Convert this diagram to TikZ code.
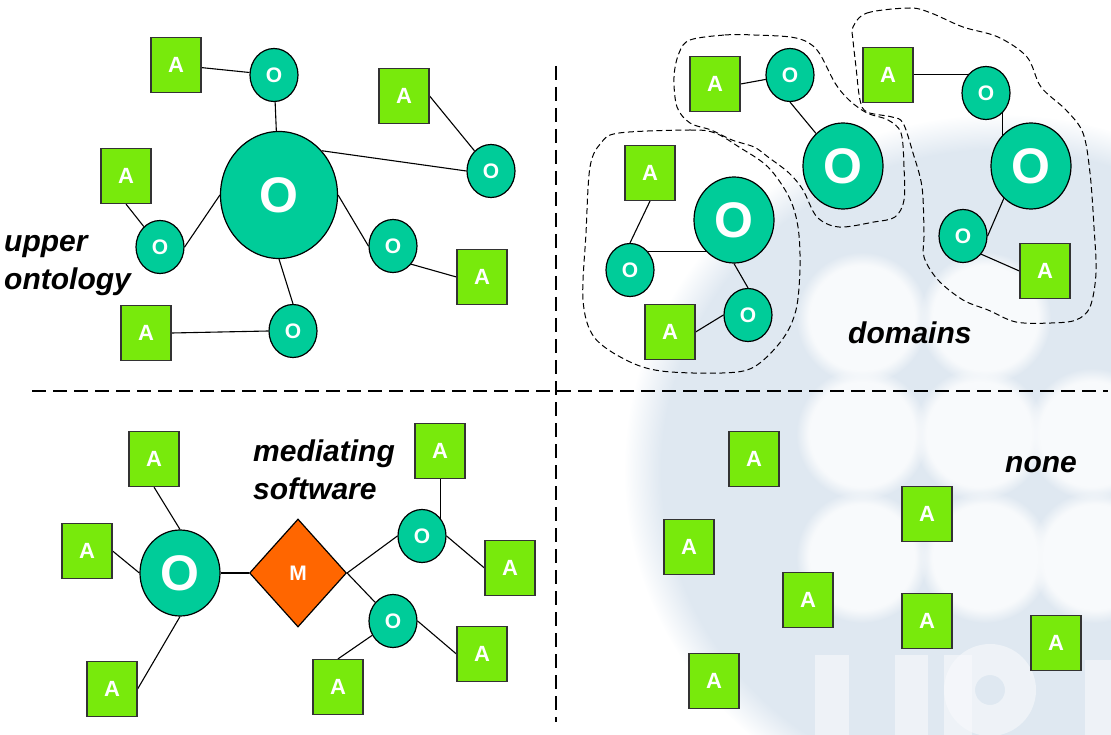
\documentclass[tikz,border=0pt]{standalone}
\usepackage{fontspec}
\setmainfont{Liberation Sans}
\usetikzlibrary{shapes.geometric,calc,fadings}
\definecolor{agreen}{HTML}{78EA0C}
\definecolor{oteal}{HTML}{00CC99}
\definecolor{morange}{HTML}{FF6600}
\definecolor{wmblue}{HTML}{DFE8F1}
\definecolor{wmlight}{HTML}{F8FAFC}
\definecolor{aborder}{HTML}{333333}
\pgfdeclarelayer{wm}
\pgfdeclarelayer{edges}
\pgfsetlayers{wm,edges,main}
\tikzset{
  anode/.style={draw=aborder, line width=1.2pt, fill=agreen, minimum width=50pt, minimum height=55pt, inner sep=0pt, text=white, font=\bfseries\fontsize{22}{22}\selectfont},
  osmall/.style={ellipse, draw=black, line width=1.2pt, fill=oteal, minimum width=48pt, minimum height=53pt, inner sep=0pt, text=white, font=\bfseries\fontsize{21}{21}\selectfont},
  omed/.style={ellipse, draw=black, line width=1.2pt, fill=oteal, minimum width=80pt, minimum height=86pt, inner sep=0pt, text=white, font=\bfseries\fontsize{50}{50}\selectfont},
  obig/.style={ellipse, draw=black, line width=1.2pt, fill=oteal, minimum width=117pt, minimum height=127pt, inner sep=0pt, text=white, font=\bfseries\fontsize{50}{50}\selectfont},
  mnode/.style={diamond, draw=black, line width=1.2pt, fill=morange, minimum width=97pt, minimum height=108pt, inner sep=0pt, text=white, font=\bfseries\fontsize{21}{21}\selectfont},
  link/.style={draw=black, line width=1.1pt},
  divider/.style={draw=black, line width=2.4pt, dash pattern=on 14pt off 7pt},
  blob/.style={draw=black, line width=1pt, dash pattern=on 6pt off 3.5pt},
  lbl/.style={font=\bfseries\itshape\fontsize{30}{38}\selectfont, align=left, inner sep=0pt, anchor=base west},
  softdot/.style={fill=wmlight, path fading=circle with fuzzy edge 20 percent},
  softbar/.style={fill=wmlight, opacity=0.6}
}
\begin{document}
\begin{tikzpicture}[x=1pt,y=-1pt]
\useasboundingbox (0,0) rectangle (1111,735);

% faint watermark
\begin{pgfonlayer}{wm}
  \begin{scope}
    \clip (0,0) rectangle (1111,735);
    \fill[wmblue, path fading=circle with fuzzy edge 10 percent] (1000,470) ellipse [x radius=375, y radius=355];
    \foreach \cx/\cy in {862/318, 985/318, 862/434, 979/434, 1092/434, 862/557, 985/557, 1095/557}
      \fill[softdot] (\cx,\cy) circle [radius=66];
    \fill[softbar] (815,655) rectangle (849,735);
    \fill[softbar] (895,655) rectangle (928,735);
    \fill[softbar] (944,655) rectangle (972,735);
    \fill[softbar, even odd rule] (990,690) circle [radius=46] (990,690) circle [radius=15];
    \fill[softbar] (1085,660) rectangle (1111,735);
  \end{scope}
\end{pgfonlayer}

% dividers
\coordinate (vtop) at (556,66);
\coordinate (vbot) at (556,722);
\coordinate (hl) at (32,391);
\coordinate (hr) at (1108,391);
\draw[divider] (vtop) -- (vbot);
\draw[divider] (hl) -- (hr);

% ---------- upper ontology ----------
\node[anode]  (A1) at (176,65) {A};
\node[osmall] (O1) at (274,75) {O};
\node[anode]  (A2) at (404,96) {A};
\node[osmall] (O2) at (491,171) {O};
\node[obig]   (TB) at (279,195) {O};
\node[anode]  (A3) at (126,176) {A};
\node[osmall] (O3) at (160,247) {O};
\node[osmall] (O4) at (393,246) {O};
\node[anode]  (A4) at (482,277) {A};
\node[osmall] (O5) at (293,331) {O};
\node[anode]  (A5) at (146,333) {A};
\node[lbl] (L1) at (4,290) {upper\\ontology};

\begin{pgfonlayer}{edges}
  \draw[link] (A1) -- (O1);
  \draw[link] (O1) -- (TB);
  \draw[link] (A2.east) -- (O2);
  \draw[link] (TB.46) -- (O2.west);
  \draw[link] (A3.south) -- (O3);
  \draw[link] (O3.east) -- (TB.west);
  \draw[link] (TB.east) -- (O4.west);
  \draw[link] (O4.-45) -- (A4.west);
  \draw[link] (TB.south) -- (O5.north);
  \draw[link] (A5.east) -- (O5.west);
\end{pgfonlayer}

% ---------- domains ----------
\node[anode]  (A6) at (715,84) {A};
\node[osmall] (O6) at (790,75) {O};
\node[omed]   (O7) at (843,166) {O};
\node[anode]  (A7) at (650,173) {A};
\node[omed]   (O8) at (734,220) {O};
\node[osmall] (O9) at (630,270) {O};
\node[osmall] (O10) at (748,315) {O};
\node[anode]  (A8) at (670,332) {A};
\node[anode]  (A9) at (888,75) {A};
\node[osmall] (O11) at (986,93) {O};
\node[omed]   (O12) at (1031,166) {O};
\node[osmall] (O13) at (963,236) {O};
\node[anode]  (A10) at (1045,271) {A};
\node[lbl] (L2) at (848,343) {domains};

\begin{pgfonlayer}{edges}
  \draw[link] (A6.east) -- (O6);
  \draw[link] (O6.south) -- (O7);
  \draw[link] (A7.south) -- (O9.north);
  \draw[link] (O9.45) -- (O9.45 -| O8);
  \draw[link] (O8.south) -- (O10.north);
  \draw[link] (O10.west) -- (A8.east);
  \draw[link] ([yshift=0.5pt]A9.east) -- ([yshift=0.5pt]A9.east -| O11);
  \draw[link] (O11.-50) -- (O11.-50 |- O12);
  \draw[link] (O12.230) -- (O13.east);
  \draw[link] (O13.-45) -- (A10.west);
\end{pgfonlayer}

\draw[blob] plot[smooth cycle, tension=0.55] coordinates {
  (619,133) (690,130) (715,133) (739,147) (768,167) (789,197) (798,227)
  (800,267) (796,310) (782,340) (754,367) (722,373) (661,371) (626,360)
  (594,337) (583,300) (586,233) (590,167) (601,143)};
\draw[blob] plot[smooth cycle, tension=0.55] coordinates {
  (690,40) (725,35) (754,35) (796,38) (817,50) (835,83) (849,100) (867,113)
  (888,120) (901,133) (904,167) (904,200) (895,217) (874,222) (839,227)
  (817,217) (803,190) (789,173) (768,157) (754,147) (732,140) (711,130)
  (690,123) (677,107) (674,77) (679,53)};
\draw[blob] plot[smooth cycle, tension=0.55] coordinates {
  (853,27) (867,13) (910,8) (931,13) (963,27) (998,37) (1027,57) (1041,87)
  (1066,110) (1083,133) (1090,173) (1094,227) (1096,273) (1090,307)
  (1076,320) (1051,323) (1016,322) (988,310) (963,300) (938,280) (924,257)
  (924,233) (922,187) (913,153) (903,123) (892,117) (867,112) (860,100)
  (856,67) (853,40)};

% ---------- mediating software ----------
\node[anode]  (A11) at (154,459) {A};
\node[anode]  (A12) at (87,551) {A};
\node[omed]   (BO) at (180,573) {O};
\node[anode]  (A13) at (112,689) {A};
\node[mnode]  (M) at (298,573) {M};
\node[osmall] (O14) at (422,536) {O};
\node[anode]  (A14) at (440,451) {A};
\node[anode]  (A15) at (510,568) {A};
\node[osmall] (O15) at (393,621) {O};
\node[anode]  (A16) at (338,687) {A};
\node[anode]  (A17) at (482,654) {A};
\node[lbl] (L3) at (253,499) {mediating\\software};

\begin{pgfonlayer}{edges}
  \draw[link] (A11.south) -- (BO.north);
  \draw[link] (A12.east) -- (BO.west);
  \draw[link] (A13.east) -- (BO.south);
  \draw[link] (BO.east) -- (M.west);
  \draw[link] (M.east) -- (O14.west);
  \draw[link] (M.east) -- (O15);
  \draw[link] ([xshift=0.5pt]A14.south) -- ([xshift=0.5pt]A14.south |- O14);
  \draw[link] (O14.east) -- (A15.west);
  \draw[link] (O15) -- (A16.north);
  \draw[link] (O15.east) -- (A17.west);
\end{pgfonlayer}

% ---------- none ----------
\node[anode] (A18) at (754,459) {A};
\node[anode] (A19) at (689,547) {A};
\node[anode] (A20) at (808,600) {A};
\node[anode] (A21) at (714,681) {A};
\node[anode] (A22) at (927,514) {A};
\node[anode] (A23) at (927,621) {A};
\node[anode] (A24) at (1056,643) {A};
\node[lbl] (L4) at (1005,472) {none};
\end{tikzpicture}
\end{document}
